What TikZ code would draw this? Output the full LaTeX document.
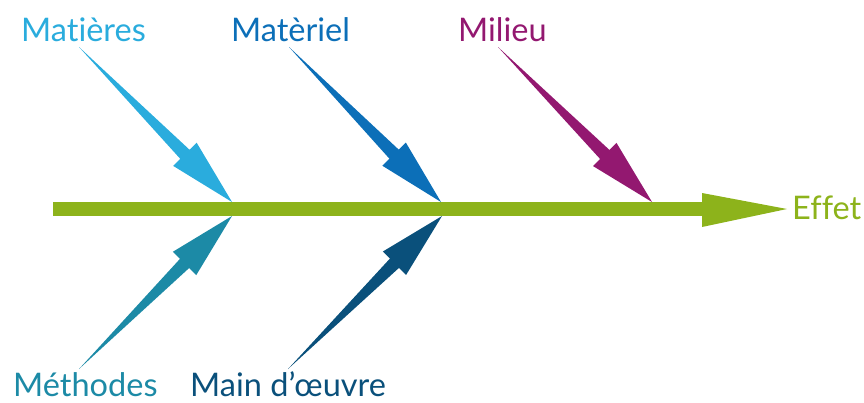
\documentclass[tikz,border=0pt]{standalone}
\usepackage{fontspec}
\setmainfont{Lato}[Ligatures={NoCommon}]
\usetikzlibrary{calc}
\definecolor{cMatieres}{HTML}{2AACDD}
\definecolor{cMateriel}{HTML}{0C6FB8}
\definecolor{cMilieu}{HTML}{931870}
\definecolor{cMethodes}{HTML}{1C8AA6}
\definecolor{cMain}{HTML}{0A507B}
\definecolor{cEffet}{HTML}{8DB31B}
\newcommand{\bonearrow}[3]{%
  \path (#3) coordinate (bonetip) ($(#3)!67pt!(#2)$) coordinate (bonebase);
  \fill[#1] (#2) -- ($(bonebase)!6.5pt!-90:(bonetip)$) -- ($(bonebase)!16.5pt!-90:(bonetip)$)
    -- (bonetip) -- ($(bonebase)!16.5pt!90:(bonetip)$) -- ($(bonebase)!6.5pt!90:(bonetip)$) -- cycle;
}
\begin{document}
\begin{tikzpicture}[x=1pt,y=-1pt,
  lbl/.style={inner sep=0pt,anchor=base west,font=\fontsize{32.5}{38}\selectfont}]
\useasboundingbox (0,0) rectangle (864,402);
% spine
\coordinate (spineL) at (53,209);
\coordinate (spineH) at (702,209);
\coordinate (spineT) at (787,209);
\fill[cEffet] (53,202) rectangle (704,216);
\fill[cEffet] (702,193) -- (spineT) -- (702,227) -- cycle;
% labels
\node[lbl,text=cMatieres] (matieres) at (21,41) {Matières};
\node[lbl,text=cMateriel] (materiel) at (231,41) {Matèriel};
\node[lbl,text=cMilieu] (milieu) at (458,41) {Milieu};
\node[lbl,text=cEffet] (effet) at (792,219) {Effet};
\node[lbl,text=cMethodes] (methodes) at (13,396) {Méthodes};
\node[lbl,text=cMain] (main) at (190,396) {Main d’œuvre};
% tails and tips
\coordinate (t1) at (79,47);   \coordinate (p1) at (232,202);
\coordinate (t2) at (289,47);  \coordinate (p2) at (441,202);
\coordinate (t3) at (498,47);  \coordinate (p3) at (652,202);
\coordinate (t4) at (79,369);  \coordinate (p4) at (232,216);
\coordinate (t5) at (288,369); \coordinate (p5) at (442,216);
\bonearrow{cMatieres}{t1}{p1}
\bonearrow{cMateriel}{t2}{p2}
\bonearrow{cMilieu}{t3}{p3}
\bonearrow{cMethodes}{t4}{p4}
\bonearrow{cMain}{t5}{p5}
\end{tikzpicture}
\end{document}
